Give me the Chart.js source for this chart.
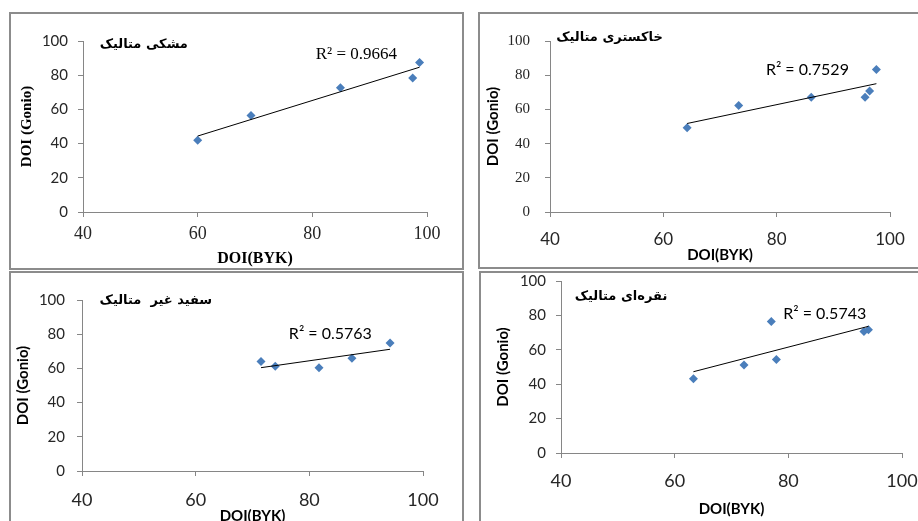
<!DOCTYPE html>
<html>
<head>
<meta charset="utf-8">
<script src="https://cdn.jsdelivr.net/npm/chart.js@4.4.0/dist/chart.umd.min.js"></script>
<style>
  html, body { margin: 0; padding: 0; background: #fff; width: 918px; height: 521px; overflow: hidden; }
  .panel { position: absolute; box-sizing: border-box; border: 2px solid #8c8c8c; background: #fff; }
  .panel canvas { position: absolute; left: 0; top: 0; }
</style>
</head>
<body>
<div class="panel" style="left:9px;top:12px;width:455px;height:258px"><canvas id="c1"></canvas></div>
<div class="panel" style="left:478px;top:12px;width:445px;height:257px"><canvas id="c2"></canvas></div>
<div class="panel" style="left:9px;top:271px;width:455px;height:264px"><canvas id="c3"></canvas></div>
<div class="panel" style="left:479px;top:271px;width:445px;height:264px"><canvas id="c4"></canvas></div>
<script>
// tick labels
const xTicks = [40, 60, 80, 100];
const yTicks = [0, 20, 40, 60, 80, 100];

// black metallic
const blackX = [60.0, 69.3, 84.9, 97.5, 98.7];
const blackY = [42.0, 56.4, 72.6, 78.4, 87.5];
// gray metallic
const grayX = [64.2, 73.3, 86.1, 95.6, 96.4, 97.6];
const grayY = [49.2, 62.3, 67.1, 67.1, 70.8, 83.3];
// white non-metallic
const whiteX = [71.5, 74.0, 81.7, 87.5, 94.2];
const whiteY = [64.1, 61.2, 60.4, 65.9, 74.9];
// silver metallic
const silverX = [63.3, 72.2, 77.0, 77.9, 93.3, 94.1];
const silverY = [43.1, 51.1, 76.5, 54.4, 70.7, 71.7];

const titles = ['مشکی متالیک', 'خاکستری متالیک', 'سفید غیر  متالیک', 'نقره\u200Cای متالیک'];
const r2Labels = ['R² = 0.9664', 'R² = 0.7529', 'R² = 0.5763', 'R² = 0.5743'];

const LATO = 'Lato, "Liberation Sans", sans-serif';
const SERIF = '"Liberation Serif", "DejaVu Serif", serif';
const FARSI = '"DejaVu Sans", sans-serif';

// text drawn at data coordinates
Chart.register({
  id: 'notes',
  afterDatasetsDraw(chart, args, opts) {
    const { ctx, scales: { x, y } } = chart;
    (opts.items || []).forEach(n => {
      ctx.save();
      ctx.font = n.font;
      ctx.fillStyle = '#000';
      ctx.direction = n.rtl ? 'rtl' : 'ltr';
      ctx.textAlign = n.align;
      ctx.textBaseline = 'middle';
      ctx.fillText(n.text, x.getPixelForValue(n.x), y.getPixelForValue(n.y));
      ctx.restore();
    });
  }
});

// least squares line over the data range
function trend(xs, ys) {
  const n = xs.length;
  const mx = xs.reduce((a, b) => a + b, 0) / n;
  const my = ys.reduce((a, b) => a + b, 0) / n;
  let sxy = 0, sxx = 0;
  for (let i = 0; i < n; i++) {
    sxy += (xs[i] - mx) * (ys[i] - my);
    sxx += (xs[i] - mx) * (xs[i] - mx);
  }
  const b = sxy / sxx, a = my - b * mx;
  const x0 = Math.min(...xs), x1 = Math.max(...xs);
  return [{ x: x0, y: a + b * x0 }, { x: x1, y: a + b * x1 }];
}

function makePanel(id, w, h, xs, ys, o) {
  const canvas = document.getElementById(id);
  canvas.width = w; canvas.height = h;
  canvas.style.width = w + 'px'; canvas.style.height = h + 'px';
  const axisGrey = '#868686';
  new Chart(canvas, {
    type: 'scatter',
    data: {
      datasets: [{
        data: trend(xs, ys),
        showLine: true,
        borderColor: '#000',
        borderWidth: 1,
        pointRadius: 0
      }, {
        data: xs.map((v, i) => ({ x: v, y: ys[i] })),
        pointStyle: 'rectRot',
        pointRadius: 4.5,
        backgroundColor: '#4a7ebb',
        borderColor: '#4a7ebb',
        borderWidth: 0
      }]
    },
    options: {
      responsive: false,
      animation: false,
      layout: { padding: { left: 0, top: o.top, right: o.right, bottom: 0 } },
      scales: {
        x: {
          type: 'linear', min: 40, max: 100,
          afterBuildTicks: s => { s.ticks = xTicks.map(v => ({ value: v })); },
          afterFit: s => { s.height = o.xH; s.paddingLeft = 0; s.paddingRight = 0; },
          grid: { drawOnChartArea: false, drawTicks: true, tickLength: 5, color: axisGrey },
          border: { display: true, color: axisGrey },
          ticks: { font: o.xTickFont, color: '#262626', padding: o.xTickPad, maxRotation: 0, autoSkip: false },
          title: { display: true, text: 'DOI(BYK)', font: o.xTitleFont, color: '#000', padding: { top: 0, bottom: o.xTitlePad } }
        },
        y: {
          type: 'linear', min: 0, max: 100,
          afterBuildTicks: s => { s.ticks = yTicks.map(v => ({ value: v })); },
          afterFit: s => { s.width = o.yW; s.paddingTop = 0; s.paddingBottom = 0; },
          grid: { drawOnChartArea: false, drawTicks: true, tickLength: 5, color: axisGrey },
          border: { display: true, color: axisGrey },
          ticks: { font: o.yTickFont, color: '#262626', padding: o.yTickPad, autoSkip: false },
          title: { display: true, text: 'DOI (Gonio)', font: o.yTitleFont, color: '#000', padding: { top: o.yTitlePad, bottom: 0 } }
        }
      },
      plugins: {
        legend: { display: false },
        tooltip: { enabled: false },
        notes: { items: o.notes }
      }
    }
  });
}

makePanel('c1', 451, 254, blackX, blackY, {
  top: 27, right: 35, yW: 72, xH: 56,
  xTickFont: { family: SERIF, size: 18 }, xTickPad: 6,
  yTickFont: { family: LATO, size: 15 }, yTickPad: 10,
  xTitleFont: { family: SERIF, size: 16, weight: 'bold' }, xTitlePad: 0,
  yTitleFont: { family: SERIF, size: 15, weight: 'bold' }, yTitlePad: 7,
  notes: [
    { text: titles[0], x: 58.3, y: 97.7, align: 'right', rtl: true, font: 'bold 13px ' + FARSI },
    { text: r2Labels[0], x: 80.6, y: 91.8, align: 'left', font: '17px ' + SERIF }
  ]
});

makePanel('c2', 441, 253, grayX, grayY, {
  top: 27, right: 31, yW: 70, xH: 55,
  xTickFont: { family: LATO, size: 17 }, xTickPad: 12,
  yTickFont: { family: SERIF, size: 15 }, yTickPad: 15,
  xTitleFont: { family: LATO, size: 15, weight: 'bold' }, xTitlePad: 3,
  yTitleFont: { family: LATO, size: 15, weight: 'bold' }, yTitlePad: 4,
  notes: [
    { text: titles[1], x: 59.9, y: 102.2, align: 'right', rtl: true, font: 'bold 13px ' + FARSI },
    { text: r2Labels[1], x: 78.1, y: 82.9, align: 'left', font: '16px ' + LATO }
  ]
});

makePanel('c3', 451, 260, whiteX, whiteY, {
  top: 27, right: 39, yW: 71, xH: 62,
  xTickFont: { family: LATO, size: 18 }, xTickPad: 13,
  yTickFont: { family: LATO, size: 15 }, yTickPad: 12,
  xTitleFont: { family: LATO, size: 15, weight: 'bold' }, xTitlePad: 8,
  yTitleFont: { family: LATO, size: 15, weight: 'bold' }, yTitlePad: 3,
  notes: [
    { text: titles[2], x: 62.9, y: 99.8, align: 'right', rtl: true, font: 'bold 13px ' + FARSI },
    { text: r2Labels[2], x: 76.4, y: 80.5, align: 'left', font: '16px ' + LATO }
  ]
});

makePanel('c4', 441, 260, silverX, silverY, {
  top: 8, right: 20, yW: 80, xH: 80,
  xTickFont: { family: LATO, size: 18 }, xTickPad: 12,
  yTickFont: { family: LATO, size: 15 }, yTickPad: 10,
  xTitleFont: { family: LATO, size: 15, weight: 'bold' }, xTitlePad: 15,
  yTitleFont: { family: LATO, size: 15, weight: 'bold' }, yTitlePad: 13,
  notes: [
    { text: titles[3], x: 58.7, y: 90.7, align: 'right', rtl: true, font: 'bold 13px ' + FARSI },
    { text: r2Labels[3], x: 79.1, y: 80.8, align: 'left', font: '16px ' + LATO }
  ]
});
</script>
</body>
</html>
